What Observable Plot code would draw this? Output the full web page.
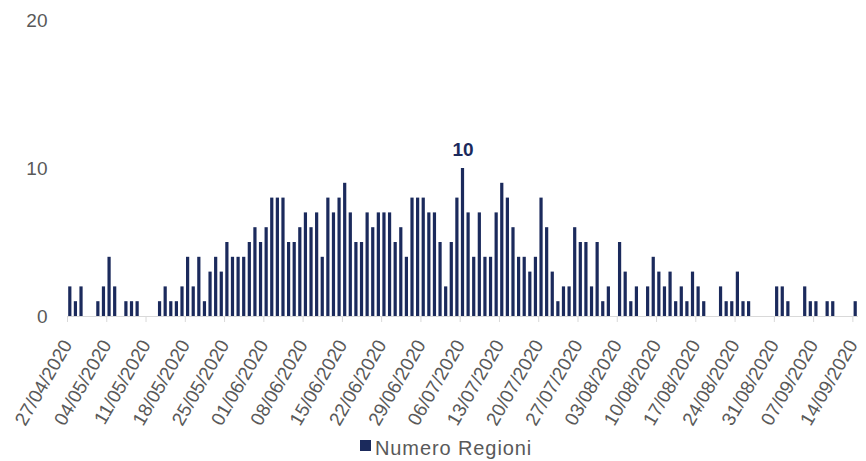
<!DOCTYPE html>
<html>
<head>
<meta charset="utf-8">
<script src="https://cdn.jsdelivr.net/npm/d3@7"></script>
<script src="https://cdn.jsdelivr.net/npm/@observablehq/plot@0.6"></script>
<style>
  html, body { margin: 0; padding: 0; background: #fff; }
  #chart { width: 866px; height: 436px; }
  #legend { height: 25px; width: 866px; display: flex; justify-content: flex-start; align-items: center; padding-left: 360px; box-sizing: border-box; font-family: "Liberation Sans", Arial, sans-serif; font-size: 20px; letter-spacing: 0.9px; color: #595959; }
  #legend .sw { width: 11px; height: 11px; background: #1b2a5c; margin-right: 4px; position: relative; top: -3px; }
</style>
</head>
<body>
<div id="chart"></div>
<script>
const seriesName = "Numero Regioni";
const startDate = "2020-04-27";
const endDate = "2020-09-15";
const yTicks = [0, 10, 20];
const values = [
  2,1,2,0,0,1,2,4,2,0,1,1,1,0,0,0,1,2,1,1,
  2,4,2,4,1,3,4,3,5,4,4,4,5,6,5,6,8,8,8,5,
  5,6,7,6,7,4,8,7,8,9,7,5,5,7,6,7,7,7,5,6,
  4,8,8,8,7,7,5,2,5,8,10,7,4,7,4,4,7,9,8,6,
  4,4,3,4,8,6,3,1,2,2,6,5,5,2,5,1,2,0,5,3,
  1,2,0,2,4,3,2,3,1,2,1,3,2,1,0,0,2,1,1,3,
  1,1,0,0,0,0,2,2,1,0,0,2,1,1,0,1,1,0,0,0,
  1
];

const x0 = new Date(startDate), x1 = new Date(endDate);
const days = d3.utcDays(x0, x1);
const data = values.map((v, i) => ({date: days[i], value: v}));
const tickDates = d3.utcMonday.range(x0, x1);
const maxRow = data.reduce((a, b) => (b.value > a.value ? b : a));

const chart = Plot.plot({
  width: 866,
  height: 436,
  marginLeft: 67,
  marginRight: 8,
  marginTop: 20,
  marginBottom: 120,
  style: {fontFamily: "'Liberation Sans', Arial, sans-serif", fontSize: "19px", background: "#fff"},
  x: {type: "utc", domain: [x0, x1]},
  y: {domain: [0, 20]},
  marks: [
    Plot.axisY({ticks: yTicks, tickSize: 0, tickPadding: 20, fill: "#595959", label: null}),
    Plot.axisX({ticks: tickDates, tickSize: 6, text: null, stroke: "#d9d9d9", label: null}),
    Plot.axisX({ticks: tickDates, tickSize: 0, tickRotate: -60, tickFormat: d3.utcFormat("%d/%m/%Y"), fill: "#595959", label: null, tickPadding: 25}),
    Plot.rectY(data, {x: "date", y: "value", interval: "day", fill: "#1b2a5c", insetLeft: 1.2, insetRight: 1.2}),
    Plot.ruleY([0], {stroke: "#d9d9d9"}),
    Plot.text([maxRow], {x: d => d3.utcHour.offset(d.date, 12), y: "value", text: d => String(d.value), dy: -19, fill: "#1b2a5c", fontWeight: "bold", fontSize: 19})
  ]
});
document.getElementById("chart").appendChild(chart);
const legend = document.createElement("div");
legend.id = "legend";
legend.innerHTML = '<span class="sw"></span><span>' + seriesName + '</span>';
document.body.appendChild(legend);
</script>
</body>
</html>
